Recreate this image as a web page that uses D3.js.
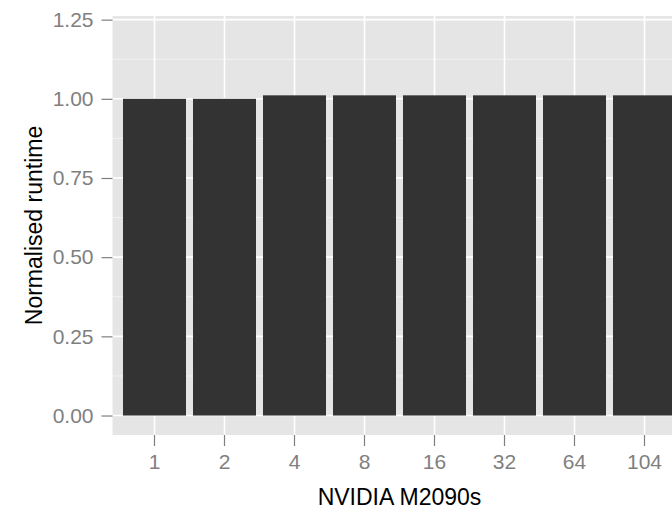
<!DOCTYPE html>
<html>
<head>
<meta charset="utf-8">
<script src="https://cdn.jsdelivr.net/npm/d3@7"></script>
<style>
  body { margin: 0; background: #fff; overflow: hidden; }
  svg { display: block; font-family: "Liberation Sans", Arial, sans-serif; }
</style>
</head>
<body>
<div id="chart"></div>
<script>
const width = 672, height = 509;

// data
const gpus = ["1", "2", "4", "8", "16", "32", "64", "104"];
const runtime = [1.0, 1.0, 1.011, 1.011, 1.011, 1.011, 1.011, 1.011];
const yTicks = [0, 0.25, 0.5, 0.75, 1.0, 1.25];
const yMinor = [0.125, 0.375, 0.625, 0.875, 1.125];

// panel runs past the right edge of the window, as in the original
const panel = {left: 112.5, right: 686.5, top: 16, bottom: 435};

const x = d3.scaleBand()
    .domain(gpus)
    .range([panel.left, panel.right])
    .paddingInner(0.1)
    .paddingOuter(0.15);

const y = d3.scaleLinear()
    .domain([-0.0615, 1.2615])
    .range([panel.bottom, panel.top]);

const svg = d3.select("#chart").append("svg")
    .attr("width", width)
    .attr("height", height);

svg.append("rect")
    .attr("x", panel.left)
    .attr("y", panel.top)
    .attr("width", panel.right - panel.left)
    .attr("height", panel.bottom - panel.top)
    .attr("fill", "#e5e5e5");

const grid = svg.append("g");
grid.selectAll("line.minor")
    .data(yMinor)
    .enter().append("line")
    .attr("class", "minor")
    .attr("x1", panel.left).attr("x2", panel.right)
    .attr("y1", d => y(d)).attr("y2", d => y(d))
    .attr("stroke", "#f2f2f2")
    .attr("stroke-width", 1);
grid.selectAll("line.hmajor")
    .data(yTicks)
    .enter().append("line")
    .attr("class", "hmajor")
    .attr("x1", panel.left).attr("x2", panel.right)
    .attr("y1", d => y(d)).attr("y2", d => y(d))
    .attr("stroke", "#fff")
    .attr("stroke-width", 1.6);
grid.selectAll("line.vmajor")
    .data(gpus)
    .enter().append("line")
    .attr("class", "vmajor")
    .attr("y1", panel.top).attr("y2", panel.bottom)
    .attr("x1", d => x(d) + x.bandwidth() / 2)
    .attr("x2", d => x(d) + x.bandwidth() / 2)
    .attr("stroke", "#fff")
    .attr("stroke-width", 1.6);

svg.append("g")
    .selectAll("rect")
    .data(gpus)
    .enter().append("rect")
    .attr("x", d => x(d))
    .attr("width", x.bandwidth())
    .attr("y", (d, i) => y(runtime[i]))
    .attr("height", (d, i) => y(0) - y(runtime[i]))
    .attr("fill", "#333333");

// axes
const xAxis = svg.append("g")
    .attr("transform", `translate(0,${panel.bottom})`)
    .call(d3.axisBottom(x).tickSize(11).tickPadding(8));
const yAxis = svg.append("g")
    .attr("transform", `translate(${panel.left},0)`)
    .call(d3.axisLeft(y).tickValues(yTicks).tickSize(11).tickPadding(8)
        .tickFormat(d3.format(".2f")));

[xAxis, yAxis].forEach(a => {
    a.select(".domain").remove();
    a.selectAll(".tick line").attr("stroke", "#7f7f7f").attr("stroke-width", 1.2);
    a.selectAll(".tick text")
        .attr("fill", "#7f7f7f")
        .attr("font-size", 21)
        .attr("font-family", "Liberation Sans, Arial, sans-serif");
});

svg.append("text")
    .attr("x", (panel.left + panel.right) / 2)
    .attr("y", 505)
    .attr("text-anchor", "middle")
    .attr("font-size", 23)
    .attr("fill", "#000")
    .text("NVIDIA M2090s");

svg.append("text")
    .attr("transform", `translate(41.5,${(panel.top + panel.bottom) / 2}) rotate(-90)`)
    .attr("text-anchor", "middle")
    .attr("font-size", 23)
    .attr("fill", "#000")
    .text("Normalised runtime");
</script>
</body>
</html>
